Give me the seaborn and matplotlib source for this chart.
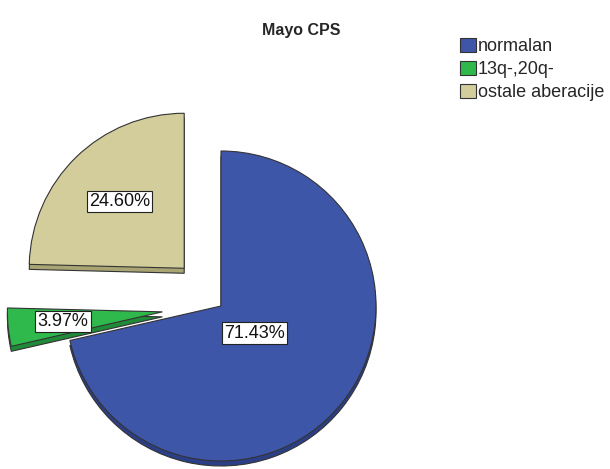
import matplotlib
matplotlib.use("Agg")
import matplotlib.pyplot as plt
import numpy as np
import seaborn as sns

# Chart data
categories = ["normalan", "13q-,20q-", "ostale aberacije"]
percentages = [71.43, 3.97, 24.60]
label_texts = ["71.43%", "3.97%", "24.60%"]

# Styling
face_colors = ["#3E56A8", "#2FB84B", "#D2CD9A"]
side_colors = ["#2B3F86", "#1F8A37", "#A9A474"]
explode_frac = [0.0, 0.38, 0.34]
label_radius = [0.28, 0.645, 0.6]

sns.set_style("white")
plt.rcParams["font.family"] = ["Liberation Sans", "DejaVu Sans"]

W, H = 610, 469
fig = plt.figure(figsize=(W / 100, H / 100), dpi=100)
ax = fig.add_axes([0, 0, 1, 1])

R = 155
cx, cy = 221, H - 306
depth = 5
edge = dict(edgecolor="#333333", linewidth=0.8)
# pie() offsets wedges in data units, so scale by the radius
explode = [f * R for f in explode_frac]

# thickness layer, drawn slightly below the pie top
ax.pie(percentages, explode=explode, startangle=90, counterclock=False,
       radius=R, center=(cx, cy - depth), colors=side_colors,
       wedgeprops=edge, frame=True)

# top face of the pie
wedges, _ = ax.pie(percentages, explode=explode, startangle=90,
                   counterclock=False, radius=R, center=(cx, cy),
                   colors=face_colors, wedgeprops=edge, frame=True)

for w, txt, lr in zip(wedges, label_texts, label_radius):
    mid = np.deg2rad((w.theta1 + w.theta2) / 2)
    x0, y0 = w.center
    ax.text(x0 + lr * R * np.cos(mid), y0 + lr * R * np.sin(mid), txt,
            ha="center", va="center", fontsize=13, color="#111111",
            bbox=dict(boxstyle="square,pad=0.12", fc="white",
                      ec="#222222", lw=0.8))

ax.set_xlim(0, W)
ax.set_ylim(0, H)
ax.set_aspect("equal")
ax.axis("off")

ax.legend(wedges, categories, loc="upper left",
          bbox_to_anchor=(460 / W, 1 - 38 / H), frameon=False, fontsize=13,
          handlelength=0.9, handleheight=0.85, handletextpad=0.1,
          labelspacing=0.3, borderaxespad=0, borderpad=0)

fig.text(301 / W, 1 - 30 / H, "Mayo CPS", ha="center", va="center",
         fontsize=11.5, fontweight="bold")

fig.savefig("out.png", dpi=100)
